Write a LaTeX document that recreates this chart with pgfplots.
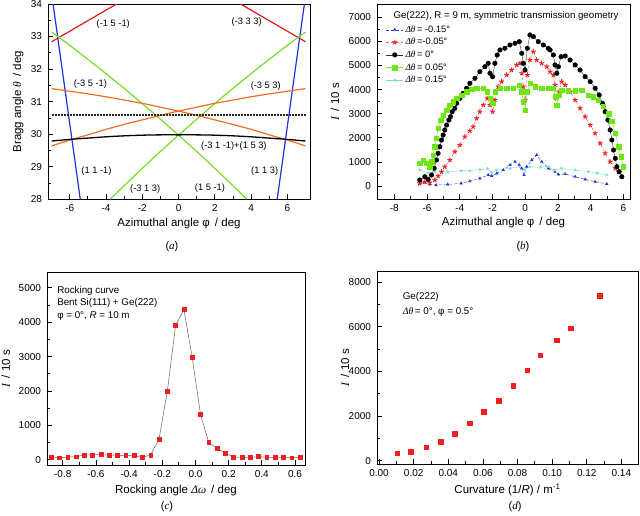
\documentclass[border=0pt]{standalone}
\usepackage{pgfplots}
\pgfplotsset{compat=1.18}
\usepackage{fontspec}
\setmainfont{Liberation Sans}
\newfontfamily\tms{Liberation Serif}
\newcommand{\itg}[1]{{\tms\itshape #1}}

\definecolor{lnblue}{RGB}{30,50,225}
\definecolor{lnred}{RGB}{225,25,30}
\definecolor{lngreen}{RGB}{120,220,40}
\definecolor{lnorange}{RGB}{240,110,30}
\definecolor{mkgreen}{RGB}{110,230,20}
\definecolor{mkcyan}{RGB}{120,225,200}
\definecolor{mkred}{RGB}{240,30,30}

\tikzset{
  refl/.style={font=\fontsize{9.3}{11}\selectfont, inner sep=0pt},
  note/.style={font=\fontsize{9.8}{11}\selectfont, anchor=west, inner sep=0pt},
  figcap/.style={font=\fontsize{11}{13}\selectfont},
}

\pgfplotsset{
  panel/.style={
    scale only axis,
    anchor=south west,
    axis line style={line width=0.9pt},
    tick pos=left,
    tick align=inside,
    major tick length=5pt,
    minor tick length=3pt,
    every tick/.style={black, line width=0.8pt},
    minor tick num=1,
    tick label style={font=\fontsize{10}{12}\selectfont},
    yticklabel style={xshift=-2.5pt},
    xticklabel style={yshift=-2pt},
    label style={font=\fontsize{11.5}{13}\selectfont},
    /pgf/number format/assume math mode=true,
    /pgf/number format/1000 sep={},
  },
}

\begin{document}
\begin{tikzpicture}
\path[use as bounding box] (0pt,0pt) rectangle (640pt,515pt);

% ---------------- (a) reflection lines ----------------
\begin{axis}[panel,
  at={(48pt,315.7pt)}, width=262pt, height=195.3pt,
  xmin=-7.2, xmax=7.25, ymin=28, ymax=34,
  xtick={-6,-4,...,6}, ytick={28,29,...,34},
  xlabel={Azimuthal angle φ\, / deg},
  ylabel={Bragg angle \itg{θ}\, / deg},
  xlabel style={at={(axis description cs:0.5,-0.123)}, anchor=center},
  ylabel style={at={(axis description cs:-0.114,0.5)}, anchor=center},
  extra description/.code={\node[figcap] at (0.473,-0.24) {(\itg{a})};},
]
% (1 1 -1) and (1 1 3)
\addplot[lnblue, line width=1.2pt] coordinates {(-6.92,34) (-5.42,28)};
\addplot[lnblue, line width=1.2pt] coordinates {(6.94,34) (5.44,28)};
% (-1 5 -1) and (-3 3 3)
\addplot[lnred, line width=1.2pt] coordinates {(-7.0,32.84) (-3.42,34)};
\addplot[lnred, line width=1.2pt] coordinates {(3.42,34) (7.0,32.84)};
% (1 5 -1)
\addplot[lngreen, line width=1.2pt] coordinates {
  (-7,33.14) (-6,32.73) (-5,32.30) (-4,31.86) (-3,31.41) (-2,30.94)
  (-1,30.46) (0,29.97) (1,29.47) (2,28.95) (3,28.42) (3.77,28.0)};
% (-3 1 3)
\addplot[lngreen, line width=1.2pt] coordinates {
  (-3.77,28.0) (-3,28.42) (-2,28.95) (-1,29.47) (0,29.97) (1,30.46)
  (2,30.94) (3,31.41) (4,31.86) (5,32.30) (6,32.73) (7,33.14)};
% (-3 5 -1)
\addplot[lnorange, line width=1.2pt] coordinates {
  (-7,31.40) (-6,31.32) (-5,31.24) (-4,31.15) (-3,31.05) (-2,30.95)
  (-1,30.83) (0,30.71) (1,30.58) (2,30.44) (3,30.30) (4,30.15)
  (5,29.98) (6,29.82) (7,29.64)};
% (-3 5 3)
\addplot[lnorange, line width=1.2pt] coordinates {
  (-7,29.64) (-6,29.82) (-5,29.98) (-4,30.15) (-3,30.30) (-2,30.44)
  (-1,30.58) (0,30.71) (1,30.83) (2,30.95) (3,31.05) (4,31.15)
  (5,31.24) (6,31.32) (7,31.40)};
% (-3 1 -1)+(1 5 3)
\addplot[black, line width=1.3pt, smooth] coordinates {
  (-7,29.79) (-6,29.84) (-5,29.88) (-4,29.92) (-3,29.95) (-2,29.97)
  (-1,29.98) (0,29.98) (1,29.98) (2,29.97) (3,29.95) (4,29.92)
  (5,29.88) (6,29.84) (7,29.79)};
% Ge(222)
\addplot[black!85, line width=1.8pt, dash pattern=on 0.9pt off 0.6pt] coordinates {(-7,30.6) (7,30.6)};

\node[refl] at (axis cs:-3.6,33.39) {(-1 5 -1)};
\node[refl] at (axis cs:3.76,33.43) {(-3 3 3)};
\node[refl] at (axis cs:-4.86,31.53) {(-3 5 -1)};
\node[refl] at (axis cs:4.81,31.47) {(-3 5 3)};
\node[refl] at (axis cs:3.05,29.63) {(-3 1 -1)+(1 5 3)};
\node[refl] at (axis cs:-4.53,28.87) {(1 1 -1)};
\node[refl] at (axis cs:4.75,28.87) {(1 1 3)};
\node[refl] at (axis cs:-1.84,28.32) {(-3 1 3)};
\node[refl] at (axis cs:1.73,28.35) {(1 5 -1)};
\end{axis}

% ---------------- (b) azimuthal scans ----------------
\begin{axis}[panel,
  at={(377pt,315.7pt)}, width=253pt, height=195.3pt,
  xmin=-9.05, xmax=6.4, ymin=-550, ymax=7550,
  xtick={-8,-6,...,6}, ytick={0,1000,...,7000},
  xlabel={Azimuthal angle φ\, / deg},
  ylabel={\itg{I}\, / 10 s},
  xlabel style={at={(axis description cs:0.5,-0.117)}, anchor=center},
  ylabel style={at={(axis description cs:-0.166,0.5)}, anchor=center},
  extra description/.code={
    \node[figcap] at (0.577,-0.24) {(\itg{b})};
    \node[font=\fontsize{9.7}{11}\selectfont] at (0.51,0.94) {Ge(222), R = 9 m, symmetric transmission geometry};},
  legend style={at={(axis description cs:0.035,0.9)}, anchor=north west,
    draw=none, fill=none, inner sep=0pt, row sep=0.6pt,
    font=\fontsize{9.3}{11}\selectfont},
  legend cell align=left,
]
\addplot[lnblue, line width=0.4pt, densely dashed, mark=triangle*, mark size=1.5pt,
  mark options={solid}] coordinates {
  (-6.45,83) (-6.15,138) (-5.84,69) (-5.44,41) (-4.73,69) (-3.91,111)
  (-3.38,200) (-2.77,318) (-2.26,456) (-2.05,415) (-1.74,527) (-1.34,664)
  (-0.93,871) (-0.62,1008) (-0.36,871) (-0.21,734) (-0.07,456) (0.09,801)
  (0.40,1079) (0.70,1286) (1.01,1008) (1.41,734) (1.82,595) (2.03,480)
  (2.44,500) (3.05,386) (3.66,276) (4.27,180) (4.98,83)};
\addlegendentry{\itg{Δθ}\,= -0.15°}
\addplot[mkred!70, line width=0.4pt, densely dashed, mark=star, mark size=2.5pt,
  mark options={solid, mkred, line width=1pt}] coordinates {
  (-6.44,111) (-6.13,180) (-5.83,138) (-5.52,249) (-5.32,415) (-5.11,595)
  (-4.91,801) (-4.60,1079) (-4.30,1424) (-3.99,1701) (-3.68,2046) (-3.38,2290)
  (-3.18,2461) (-2.97,2809) (-2.77,3083) (-2.56,3361) (-2.32,3639) (-2.15,3361)
  (-1.99,3083) (-1.85,3568) (-1.65,4120) (-1.44,4328) (-1.13,4606) (-0.83,4813)
  (-0.52,5021) (-0.32,5091) (-0.21,4676) (-0.12,4120) (-0.01,3568) (0.13,4606)
  (0.29,5228) (0.50,5573) (0.70,5228) (1.01,5091) (1.32,4950) (1.52,4743)
  (1.72,4606) (1.82,4191) (1.93,3639) (2.07,3913) (2.23,4328) (2.44,4191)
  (2.74,3913) (3.05,3568) (3.35,3224) (3.66,2876) (3.97,2531) (4.27,2187)
  (4.58,1772) (4.88,1357) (5.19,1008) (5.50,734) (5.70,595)};
\addlegendentry{\itg{Δθ}\,=-0.05°}
\addplot[black!80, line width=0.4pt, mark=*, mark size=2.3pt,
  mark options={black}] coordinates {
  (-6.44,249) (-6.13,386) (-5.93,278) (-5.72,456) (-5.56,734) (-5.42,1079)
  (-5.32,1357) (-5.21,1631) (-5.11,1909) (-5.01,2116) (-4.91,2324) (-4.80,2531)
  (-4.66,2739) (-4.56,2876) (-4.46,3083) (-4.30,3224) (-4.19,3431) (-3.99,3639)
  (-3.79,3846) (-3.58,4054) (-3.38,4261) (-3.07,4469) (-2.77,4743) (-2.46,4950)
  (-2.26,5091) (-2.15,4676) (-1.99,4535) (-1.85,5091) (-1.71,5436) (-1.54,5643)
  (-1.24,5714) (-0.93,5851) (-0.62,5921) (-0.36,5988) (-0.21,5506) (-0.12,5091)
  (-0.01,4813) (0.13,5714) (0.29,6266) (0.50,6195) (0.80,5988) (1.11,5851)
  (1.41,5714) (1.52,5643) (1.72,5436) (1.82,5021) (1.93,4676) (2.03,4950)
  (2.19,5365) (2.44,5394) (2.74,5228) (3.05,5021) (3.35,4813) (3.66,4535)
  (3.97,4328) (4.27,4054) (4.52,3776) (4.72,3431) (4.88,3083) (5.05,2739)
  (5.19,2324) (5.29,1909) (5.39,1494) (5.50,1149) (5.60,801) (5.74,595)
  (5.90,386)};
\addlegendentry{\itg{Δθ}\,= 0°}
\addplot[mkgreen, line width=0.4pt, mark=square*, mark size=2.2pt] coordinates {
  (-6.44,940) (-6.24,1079) (-6.03,940) (-5.83,801) (-5.72,1008) (-5.62,1286)
  (-5.52,1631) (-5.42,1979) (-5.32,2394) (-5.15,2739) (-5.01,2946) (-4.80,3154)
  (-4.60,3361) (-4.40,3498) (-4.19,3639) (-3.89,3776) (-3.58,3913) (-3.27,4020)
  (-2.97,4053) (-2.56,4053) (-2.32,3913) (-2.15,3639) (-1.99,3431) (-1.85,3913)
  (-1.54,4053) (-1.13,4053) (-0.73,4053) (-0.36,4191) (-0.21,3913) (-0.12,3498)
  (-0.01,3154) (0.13,3913) (0.29,4261) (0.60,4120) (1.01,4053) (1.41,4053)
  (1.72,4053) (1.82,3707) (1.93,3361) (2.07,3776) (2.23,3983) (2.64,3954)
  (3.05,3954) (3.46,3983) (3.86,3776) (4.17,3700) (4.47,3550) (4.78,3300)
  (5.09,3000) (5.29,2700) (5.50,2187) (5.70,1631) (5.86,1216) (6.00,801)};
\addlegendentry{\itg{Δθ}\,= 0.05°}
\addplot[mkcyan, line width=0.4pt, mark=star, mark size=1.6pt,
  mark options={line width=0.7pt}] coordinates {
  (-6.44,664) (-5.94,553) (-5.50,595) (-4.73,581) (-3.91,636) (-3.38,640)
  (-2.77,680) (-2.30,720) (-2.05,560) (-1.74,664) (-0.93,734) (-0.32,801)
  (-0.07,690) (0.29,801) (0.95,780) (1.41,801) (1.82,664) (2.23,734)
  (3.05,664) (3.86,595) (4.40,540) (4.98,456)};
\addlegendentry{\itg{Δθ}\,= 0.15°}
\end{axis}

% ---------------- (c) rocking curve ----------------
\begin{axis}[panel,
  at={(47pt,50pt)}, width=258pt, height=193pt,
  xmin=-0.895, xmax=0.66, ymin=-150, ymax=5460,
  xtick={-0.8,-0.6,...,0.61}, ytick={0,1000,...,5000},
  xticklabel style={/pgf/number format/.cd, fixed, fixed zerofill, precision=1},
  xlabel={Rocking angle \itg{Δω}\, / deg},
  ylabel={\itg{I}\, / 10 s},
  xlabel style={at={(axis description cs:0.5,-0.13)}, anchor=center},
  ylabel style={at={(axis description cs:-0.16,0.5)}, anchor=center},
  extra description/.code={
    \node[figcap] at (0.465,-0.218) {(\itg{c})};
    \node[note] at (0.039,0.903) {Rocking curve};
    \node[note] at (0.039,0.838) {Bent Si(111) + Ge(222)};
    \node[note] at (0.039,0.774) {φ = 0°, \textit{R} = 10 m};},
]
\addplot[black!60, line width=0.5pt, mark=square*, mark size=1.9pt,
  mark options={mkred}] coordinates {
  (-0.87,68) (-0.82,60) (-0.77,80) (-0.72,90) (-0.67,145) (-0.62,145)
  (-0.57,155) (-0.52,135) (-0.47,135) (-0.42,125) (-0.37,125) (-0.32,68)
  (-0.27,145) (-0.22,600) (-0.17,1983) (-0.12,3907) (-0.07,4371) (-0.02,2988)
  (0.03,1325) (0.08,503) (0.13,329) (0.18,193) (0.23,77) (0.28,77)
  (0.33,68) (0.38,97) (0.43,68) (0.48,68) (0.53,87) (0.58,58) (0.63,68)};
\end{axis}

% ---------------- (d) intensity vs curvature ----------------
\begin{axis}[panel,
  at={(377pt,51pt)}, width=261pt, height=193pt,
  xmin=-0.0012, xmax=0.1496, ymin=-140, ymax=8500,
  xtick={0,0.02,...,0.141}, ytick={0,2000,...,8000},
  xticklabel style={/pgf/number format/.cd, fixed, fixed zerofill, precision=2},
  xlabel={Curvature (1/\textit{R}) / m\textsuperscript{-1}},
  ylabel={\itg{I}\, / 10 s},
  xlabel style={at={(axis description cs:0.5,-0.135)}, anchor=center},
  ylabel style={at={(axis description cs:-0.123,0.5)}, anchor=center},
  extra description/.code={
    \node[figcap] at (0.529,-0.223) {(\itg{d})};
    \node[note] at (0.098,0.864) {Ge(222)};
    \node[note] at (0.098,0.789) {\itg{Δθ}\,= 0°, φ = 0.5°};},
]
\addplot[only marks, mark=square*, mark size=2.3pt, mkred] coordinates {
  (0.0105,343) (0.0183,417) (0.0272,611) (0.0355,864) (0.0438,1207)
  (0.0522,1684) (0.0605,2206) (0.0690,2697) (0.0775,3353) (0.0856,4068)
  (0.0930,4724) (0.1025,5410) (0.1107,5946) (0.1275,7406)};
\end{axis}
\end{tikzpicture}
\end{document}
